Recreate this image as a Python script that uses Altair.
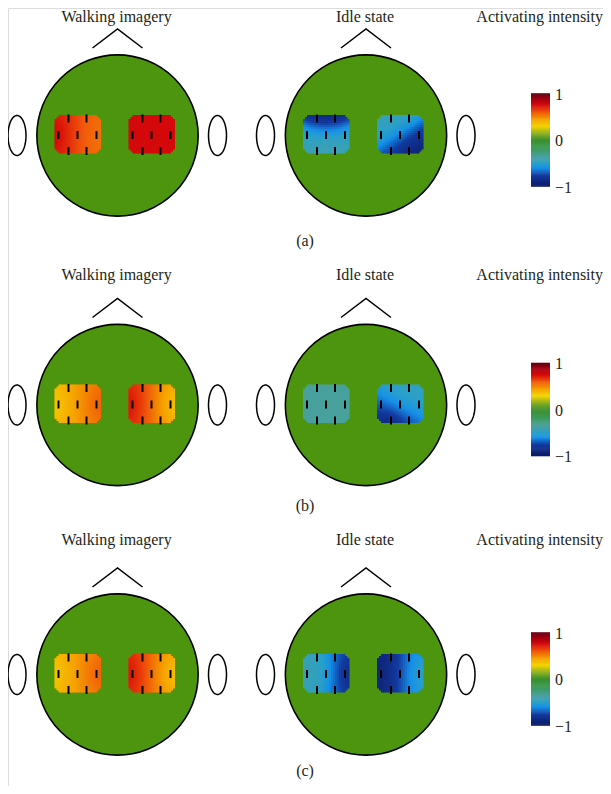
import altair as alt
import pandas as pd
import numpy as np

# ---------------- data ----------------
conditions = ["Walking imagery", "Idle state"]
colorbar_title = "Activating intensity"
row_labels = ["(a)", "(b)", "(c)"]
colorbar_ticks = [1, 0, -1]
colorbar_tick_labels = ["1", "0", "\u22121"]

# electrode order: top-left, top-right, mid-left, mid-centre, mid-right, bottom-left, bottom-right
a_walk_left = [0.70, 0.57, 0.80, 0.62, 0.54, 0.70, 0.56]
a_walk_right = [0.76, 0.76, 0.77, 0.76, 0.76, 0.76, 0.76]
a_idle_left = [-0.96, -0.96, -0.44, -0.43, -0.44, -0.42, -0.42]
a_idle_right = [-0.42, -0.44, -0.45, -0.60, -0.86, -0.78, -0.96]
b_walk_left = [0.40, 0.52, 0.31, 0.46, 0.62, 0.40, 0.52]
b_walk_right = [0.68, 0.45, 0.77, 0.56, 0.32, 0.68, 0.45]
b_idle_left = [-0.34, -0.34, -0.34, -0.34, -0.34, -0.34, -0.34]
b_idle_right = [-0.47, -0.47, -0.70, -0.52, -0.47, -0.96, -0.72]
c_walk_left = [0.40, 0.52, 0.31, 0.47, 0.62, 0.40, 0.52]
c_walk_right = [0.68, 0.45, 0.77, 0.56, 0.32, 0.68, 0.45]
c_idle_left = [-0.43, -0.72, -0.42, -0.46, -0.92, -0.44, -0.74]
c_idle_right = [-0.90, -0.58, -0.93, -0.72, -0.45, -0.88, -0.56]

panels = [
    [(a_walk_left, a_walk_right), (a_idle_left, a_idle_right)],
    [(b_walk_left, b_walk_right), (b_idle_left, b_idle_right)],
    [(c_walk_left, c_walk_right), (c_idle_left, c_idle_right)],
]

# colour map (jet-like)
cmap_stops = [-1, -0.75, -0.6, -0.5, -0.35, -0.15, 0, 0.15, 0.3, 0.45, 0.6, 0.75, 0.9, 1]
cmap_colors = ["#0c1760", "#123aa0", "#1590e8", "#2aa0c8", "#4aa0a0", "#3a9a50",
               "#3c9030", "#8cb020", "#f5d400", "#f5a000", "#f05a0a", "#d80a0a",
               "#a00010", "#620012"]

# ---------------- layout (page pixels) ----------------
W, H = 595, 778
head_x = [117.5, 366]
head_y = 135.5
head_r = 91
row_dy = [0, 269.5, 539]
title_y = [22, 280, 545]
label_y = [246, 511, 776]
patch_dx = [-40, 34]
patch_dy = -1.5
patch_w, patch_h, corner = 46, 38, 8
elec_off = [(-9, -15.5), (9, -15.5), (-19, 1), (0, 1), (19, 1), (-9, 17), (9, 17)]
cb_x0, cb_x1, cb_mid, cb_half = 531, 550, 140, 46.5
GREEN = "#4e950f"
FONT = "Liberation Serif"
TXT = "#231f20"
SIG = 11.0

xs = alt.Scale(domain=[8, 8 + W], nice=False, zero=False)
ys = alt.Scale(domain=[8, 8 + H], nice=False, zero=False, reverse=True)
cs = alt.Scale(domain=cmap_stops, range=cmap_colors, interpolate="rgb")

heads, ears, noses, cells, ticks, texts, cbar = [], [], [], [], [], [], []
for r in range(3):
    dy = row_dy[r]
    cy = head_y + dy
    for c in range(2):
        hx = head_x[c]
        hid = f"{r}-{c}"
        heads.append({"x": hx, "y": cy})
        t = np.linspace(0, 2 * np.pi, 60)
        for side, ex in (("L", hx - 100.5), ("R", hx + 100)):
            for i, tt in enumerate(t):
                ears.append({"id": hid + side, "o": i,
                             "x": ex + 9 * np.cos(tt), "y": cy + 20 * np.sin(tt)})
        by = cy - np.sqrt(head_r ** 2 - 25 ** 2)
        for i, (px, py) in enumerate([(hx - 25, by), (hx, cy - 106.5), (hx + 25, by)]):
            noses.append({"id": hid, "o": i, "x": px, "y": py})
        for p in range(2):
            vals = np.array(panels[r][c][p])
            pcx = hx + patch_dx[p]
            pcy = cy + patch_dy
            ex_ = np.array([pcx + o[0] for o in elec_off])
            ey_ = np.array([pcy + o[1] for o in elec_off])
            pl, pt = pcx - patch_w / 2, pcy - patch_h / 2
            for i in range(patch_w // 2):
                for j in range(patch_h // 2):
                    x0, y0 = pl + 2 * i, pt + 2 * j
                    ccx, ccy = x0 + 1, y0 + 1
                    ddx = max(abs(ccx - pcx) - (patch_w / 2 - corner), 0)
                    ddy = max(abs(ccy - pcy) - (patch_h / 2 - corner), 0)
                    if ddx ** 2 + ddy ** 2 > corner ** 2:
                        continue
                    d2 = (ex_ - ccx) ** 2 + (ey_ - ccy) ** 2
                    w = np.exp(-d2 / (2 * SIG ** 2))
                    v = float((w * vals).sum() / w.sum())
                    cells.append({"x": x0, "x2": x0 + 2.5, "y": y0, "y2": y0 + 2.5, "v": v})
            for ox, oy in elec_off:
                ticks.append({"x": pcx + ox, "y": pcy + oy - 4, "y2": pcy + oy + 4})
        texts.append({"x": hx - 1, "y": title_y[r], "t": conditions[c], "a": "c"})
    texts.append({"x": 603, "y": title_y[r], "t": colorbar_title, "a": "r"})
    texts.append({"x": 305, "y": label_y[r], "t": row_labels[r], "a": "c"})
    # colour bar
    n = 100
    for k in range(n):
        v0 = -1 + 2 * k / n
        v1 = -1 + 2 * (k + 1) / n
        cbar.append({"x": cb_x0, "x2": cb_x1,
                     "y": cb_mid + dy - v1 * cb_half - 0.3,
                     "y2": cb_mid + dy - v0 * cb_half + 0.3,
                     "v": (v0 + v1) / 2})
    for tv, tl in zip(colorbar_ticks, colorbar_tick_labels):
        texts.append({"x": 555, "y": cb_mid + dy - tv * cb_half + 1, "t": tl, "a": "cb"})

heads_df = pd.DataFrame(heads)
ears_df = pd.DataFrame(ears)
noses_df = pd.DataFrame(noses)
cells_df = pd.DataFrame(cells)
ticks_df = pd.DataFrame(ticks)
cbar_df = pd.DataFrame(cbar)
txt_df = pd.DataFrame([t for t in texts if t["a"] == "c"])
txtr_df = pd.DataFrame([t for t in texts if t["a"] == "r"])
cbt_df = pd.DataFrame([t for t in texts if t["a"] == "cb"])

X = alt.X("x:Q", scale=xs, axis=None)
Y = alt.Y("y:Q", scale=ys, axis=None)

ear_layer = alt.Chart(ears_df).mark_line(color="black", strokeWidth=1.5).encode(
    x=X, y=Y, detail="id:N", order="o:Q")
nose_layer = alt.Chart(noses_df).mark_line(color="black", strokeWidth=1.5).encode(
    x=X, y=Y, detail="id:N", order="o:Q")
head_layer = alt.Chart(heads_df).mark_point(
    shape="circle", filled=True, fill=GREEN, stroke="black", strokeWidth=1.6,
    opacity=1, fillOpacity=1, strokeOpacity=1, size=float(np.pi * head_r ** 2)
).encode(x=X, y=Y)
cell_layer = alt.Chart(cells_df).mark_rect(strokeWidth=0).encode(
    x=X, x2="x2:Q", y=Y, y2="y2:Q", color=alt.Color("v:Q", scale=cs, legend=None))
tick_layer = alt.Chart(ticks_df).mark_rule(color="black", strokeWidth=2).encode(
    x=X, y=Y, y2="y2:Q")
cbar_layer = alt.Chart(cbar_df).mark_rect(strokeWidth=0).encode(
    x=X, x2="x2:Q", y=Y, y2="y2:Q", color=alt.Color("v:Q", scale=cs, legend=None))
text_layer = alt.Chart(txt_df).mark_text(
    font=FONT, fontSize=16, color=TXT, align="center", baseline="alphabetic").encode(
    x=X, y=Y, text="t:N")
textr_layer = alt.Chart(txtr_df).mark_text(
    font=FONT, fontSize=16, color=TXT, align="right", baseline="alphabetic").encode(
    x=X, y=Y, text="t:N")
cbt_layer = alt.Chart(cbt_df).mark_text(
    font=FONT, fontSize=16, color=TXT, align="left", baseline="middle").encode(
    x=X, y=Y, text="t:N")

chart = alt.layer(
    ear_layer, nose_layer, head_layer, cell_layer, tick_layer,
    cbar_layer, text_layer, textr_layer, cbt_layer
).properties(
    width=W, height=H, autosize=alt.AutoSizeParams(type="none"), padding=0
).configure_view(stroke=None).configure(background="white")

chart.save("out.html", embed_options={"renderer": "svg", "actions": False})
